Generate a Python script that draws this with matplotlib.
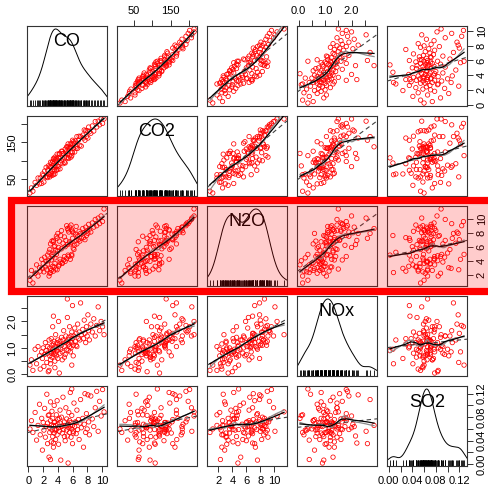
import numpy as np
import matplotlib
matplotlib.use('Agg')
import matplotlib.pyplot as plt
from matplotlib.patches import Rectangle
from matplotlib.lines import Line2D

plt.rcParams['font.family'] = ['Liberation Sans', 'DejaVu Sans']

names = ['CO', 'CO2', 'N2O', 'NOx', 'SO2']

co = [0.2, 0.4, 0.6, 0.9, 1.1, 1.3, 1.5, 1.6, 1.8, 1.9,
      2.0, 2.1, 2.2, 2.3, 2.4, 2.5, 2.6, 2.6, 2.7, 2.8,
      2.9, 2.9, 3.0, 3.0, 3.1, 3.1, 3.2, 3.2, 3.3, 3.3,
      3.4, 3.4, 3.5, 3.5, 3.5, 3.6, 3.6, 3.7, 3.7, 3.8,
      3.8, 3.9, 3.9, 4.0, 4.0, 4.1, 4.1, 4.2, 4.3, 4.3,
      4.4, 4.5, 4.5, 4.6, 4.7, 4.8, 4.9, 5.0, 5.0, 5.1,
      5.2, 5.2, 5.3, 5.4, 5.4, 5.5, 5.5, 5.6, 5.6, 5.7,
      5.7, 5.8, 5.8, 5.9, 5.9, 6.0, 6.0, 6.1, 6.2, 6.3,
      6.4, 6.5, 6.6, 6.7, 6.8, 6.9, 7.0, 7.1, 7.2, 7.4,
      7.5, 7.6, 7.7, 7.8, 7.9, 8.0, 8.1, 8.2, 8.3, 8.5,
      8.7, 8.9, 9.1, 9.3, 9.5, 9.7, 9.9, 10.1, 10.3, 4.6,
      3.0, 3.6, 4.2, 4.9, 5.3, 5.9, 6.1, 2.8, 3.4, 6.5]

co2 = [12, 26, 17, 41, 33, 53, 37, 53, 38, 64,
       60, 42, 72, 56, 82, 56, 74, 54, 86, 64,
       84, 56, 82, 96, 66, 82, 60, 94, 76, 98,
       62, 92, 104, 76, 88, 72, 110, 86, 102, 74,
       106, 86, 118, 76, 102, 108, 84, 118, 78, 106,
       94, 126, 100, 120, 92, 120, 110, 132, 94, 124,
       138, 108, 120, 146, 108, 136, 106, 134, 114, 138,
       146, 110, 136, 146, 124, 156, 122, 134, 148, 124,
       154, 140, 166, 134, 156, 167, 142, 166, 140, 170,
       162, 184, 156, 182, 166, 182, 162, 192, 179, 175,
       195, 181, 207, 192, 208, 198, 214, 202, 214, 126,
       62, 64, 120, 96, 138, 114, 152, 62, 106, 134]

n2o = [1.2, 2.6, 0.8, 2.2, 3.4, 1.8, 3.0, 2.5, 4.2, 2.9,
       3.6, 2.4, 4.5, 3.1, 3.9, 2.7, 4.8, 3.5, 4.0, 5.2,
       2.2, 5.6, 2.9, 6.4, 4.1, 2.6, 4.9, 6.8, 3.2, 4.6,
       6.7, 2.5, 6.0, 3.1, 5.1, 3.6, 6.1, 5.5, 2.8, 7.5,
       4.9, 7.2, 2.7, 5.4, 7.9, 3.2, 5.9, 6.8, 3.8, 4.2,
       7.6, 5.7, 8.3, 3.6, 6.5, 4.1, 7.4, 6.0, 3.9, 6.9,
       9.0, 4.3, 6.3, 8.4, 4.8, 8.1, 4.6, 6.7, 8.8, 6.4,
       4.2, 9.1, 6.6, 8.4, 4.7, 7.2, 8.2, 8.0, 5.6, 6.2,
       7.8, 6.9, 6.4, 7.5, 7.0, 8.2, 6.8, 7.9, 7.2, 8.6,
       7.3, 8.0, 7.0, 8.8, 7.6, 8.3, 7.9, 9.2, 8.5, 8.1,
       9.4, 8.8, 9.9, 9.0, 10.1, 9.3, 10.4, 9.6, 11.4, 3.7,
       2.3, 4.4, 3.4, 4.6, 8.6, 4.9, 5.8, 1.8, 6.9, 8.9]

nox = [0.35, 0.55, 0.15, 0.95, 0.40, 1.05, 0.70, 0.20, 0.85, 0.60,
       1.00, 0.30, 0.75, 1.20, 0.90, 0.45, 1.05, 0.80, 0.10, 1.30,
       0.70, 1.00, 0.85, 0.55, 1.35, 0.80, 1.10, 0.65, 0.95, 1.80,
       0.85, 1.15, 0.75, 1.25, 0.95, 0.50, 1.05, 0.80, 1.50, 1.00,
       0.70, 1.20, 0.90, 1.30, 0.60, 1.00, 2.00, 1.15, 0.80, 1.25,
       0.95, 1.40, 1.10, 0.85, 1.30, 1.65, 1.05, 1.20, 0.75, 1.45,
       1.25, 0.95, 2.15, 1.30, 0.90, 1.15, 1.40, 1.05, 1.80, 1.25,
       0.85, 1.45, 1.00, 1.60, 1.20, 2.60, 1.35, 1.10, 1.45, 1.75,
       1.25, 1.55, 1.05, 1.90, 1.35, 1.60, 1.30, 2.70, 1.50, 1.70,
       1.35, 2.05, 1.55, 1.20, 1.80, 1.45, 2.25, 1.65, 1.30, 1.90,
       1.60, 2.10, 1.45, 1.85, 2.55, 1.65, 2.00, 1.80, 1.50, 0.55,
       0.40, 0.25, 0.05, 0.65, 2.85, 0.35, 0.70, 0.15, 2.20, 1.10]

so2 = [0.060, 0.074, 0.054, 0.088, 0.041, 0.066, 0.102, 0.050, 0.078, 0.024,
       0.071, 0.058, 0.095, 0.046, 0.064, 0.119, 0.035, 0.070, 0.083, 0.012,
       0.062, 0.054, 0.106, 0.074, 0.038, 0.066, 0.090, 0.058, 0.047, 0.078,
       0.065, 0.029, 0.071, 0.053, 0.100, 0.060, 0.072, 0.042, 0.066, 0.084,
       0.059, 0.108, 0.050, 0.068, 0.076, 0.034, 0.062, 0.056, 0.092, 0.070,
       0.007, 0.064, 0.080, 0.053, 0.114, 0.059, 0.072, 0.040, 0.066, 0.096,
       0.058, 0.077, 0.048, 0.068, 0.002, 0.062, 0.088, 0.054, 0.074, 0.065,
       0.122, 0.046, 0.071, 0.060, 0.083, 0.035, 0.066, 0.056, 0.104, 0.064,
       0.072, 0.052, 0.092, 0.059, 0.076, 0.042, 0.070, 0.110, 0.062, 0.078,
       0.029, 0.068, 0.120, 0.054, 0.086, 0.060, 0.118, 0.072, 0.050, 0.116,
       0.077, 0.064, 0.096, 0.124, 0.056, 0.107, 0.082, 0.127, 0.089, 0.065,
       0.008, 0.058, 0.078, 0.047, 0.066, 0.128, 0.053, 0.084, 0.036, 0.071]

tick_pos = [[0, 2, 4, 6, 8, 10],
            [50, 100, 150, 200],
            [2, 4, 6, 8, 10],
            [0, 0.5, 1.0, 1.5, 2.0, 2.5],
            [0, 0.02, 0.04, 0.06, 0.08, 0.10, 0.12]]
tick_lab = [['0', '2', '4', '6', '8', '10'],
            ['50', '', '150', ''],
            ['2', '4', '6', '8', '10'],
            ['0.0', '', '1.0', '', '2.0', ''],
            ['0.00', '', '0.04', '', '0.08', '', '0.12']]

data = [np.array(v, dtype=float) for v in (co, co2, n2o, nox, so2)]
lims = []
for v in data:
    r = v.max() - v.min()
    lims.append((v.min() - 0.04 * r, v.max() + 0.04 * r))


def lowess(x, y, frac):
    o = np.argsort(x)
    xs, ys = x[o], y[o]
    k = int(np.ceil(frac * len(xs)))
    fit = np.empty(len(xs))
    for i, x0 in enumerate(xs):
        d = np.abs(xs - x0)
        h = np.sort(d)[k - 1] + 1e-9
        w = np.clip(1 - (d / h) ** 3, 0, 1) ** 3
        xm = (w * xs).sum() / w.sum()
        ym = (w * ys).sum() / w.sum()
        b = (w * (xs - xm) * (ys - ym)).sum() / max((w * (xs - xm) ** 2).sum(), 1e-12)
        fit[i] = ym + b * (x0 - xm)
    return xs, fit


W, H = 488, 486
fig = plt.figure(figsize=(W / 100, H / 100), dpi=100)
frame_col = '#333333'

for i in range(5):
    for j in range(5):
        ax = fig.add_axes([(27 + 90 * j) / W, (H - (26 + 90 * i) - 80) / H, 80 / W, 80 / H])
        for s in ax.spines.values():
            s.set_color(frame_col)
            s.set_linewidth(0.8)
        ax.set_xlim(lims[j])
        ax.set_ylim(lims[i])
        x = data[j]
        if i == j:
            # density (scaled into the panel's own range) + rug
            n = len(x)
            iqr = np.subtract(*np.percentile(x, [75, 25]))
            bw = 0.9 * min(x.std(ddof=1), iqr / 1.34) * n ** -0.2
            g = np.linspace(lims[j][0], lims[j][1], 300)
            dens = np.exp(-0.5 * ((g[:, None] - x[None, :]) / bw) ** 2).sum(1) / (n * bw * np.sqrt(2 * np.pi))
            lo, hi = lims[i]
            yd = lo + (dens / dens.max() + 0.04) / 1.08 * (hi - lo)
            ax.plot(g, yd, color='black', lw=0.7)
            ax.vlines(x, 0, 0.075, color='black', lw=0.6, transform=ax.get_xaxis_transform())
            ax.text(0.5, 0.8, names[i], transform=ax.transAxes, ha='center', va='center', fontsize=13)
        else:
            y = data[i]
            ax.scatter(x, y, s=10, facecolors='none', edgecolors='red', linewidths=0.55, zorder=2)
            b1, b0 = np.polyfit(x, y, 1)
            ax.plot(np.array(lims[j]), b0 + b1 * np.array(lims[j]), color='#404040',
                    lw=0.8, dashes=(4, 3), zorder=3)
            xs, f = lowess(x, y, 0.3)
            ax.plot(xs, f, color='#8c8c8c', lw=0.9, zorder=3)
            xs, f = lowess(x, y, 0.6)
            ax.plot(xs, f, color='black', lw=0.9, zorder=4)

        ax.set_xticks([])
        ax.set_yticks([])
        ax.tick_params(length=4, width=0.7, color=frame_col, labelsize=8, pad=3)
        if i == 0 and j % 2 == 1:
            ax.set_xticks(tick_pos[j], tick_lab[j])
            ax.xaxis.tick_top()
        if i == 4 and j % 2 == 0:
            ax.set_xticks(tick_pos[j], tick_lab[j])
            ax.xaxis.tick_bottom()
        if j == 0 and i % 2 == 1:
            ax.set_yticks(tick_pos[i], tick_lab[i], rotation=90, va='center')
            ax.yaxis.tick_left()
        if j == 4 and i % 2 == 0:
            ax.set_yticks(tick_pos[i], tick_lab[i], rotation=90, va='center')
            ax.yaxis.tick_right()

# highlight band around the N2O row: pink wash + open red frame (no right side)
top, bot, left = (H - 200) / H, (H - 290.5) / H, 11 / W
fig.add_artist(Rectangle((left, bot), 1 - left, top - bot, transform=fig.transFigure,
                         facecolor=(1, 0, 0, 0.2), edgecolor='none', zorder=10))
fig.add_artist(Line2D([1, left, left, 1], [top, top, bot, bot], transform=fig.transFigure,
                      color='red', lw=5.2, solid_joinstyle='miter', solid_capstyle='butt', zorder=11))

fig.savefig('out.png', dpi=100)
